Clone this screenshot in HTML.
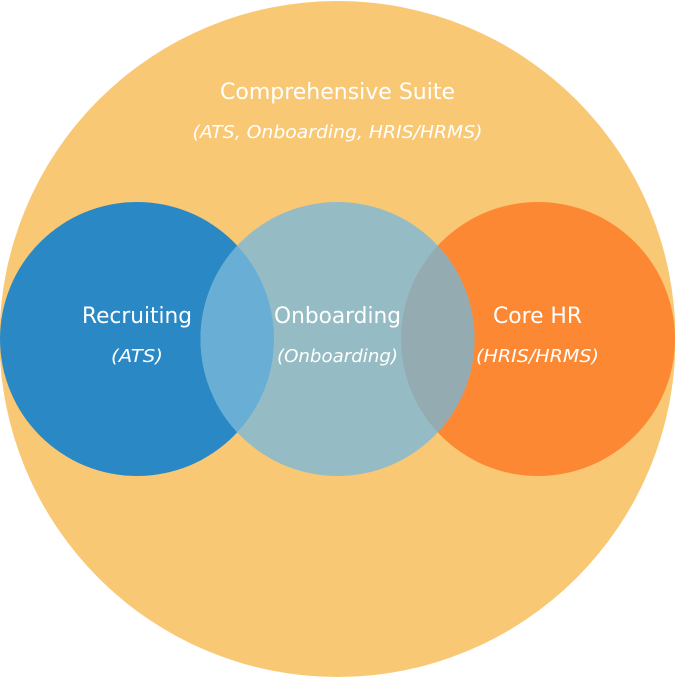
<!DOCTYPE html>
<html><head><meta charset="utf-8"><style>html,body{margin:0;padding:0;background:#fff}svg{display:block}</style></head><body>
<svg width="675" height="678" viewBox="0 0 675 678" xmlns="http://www.w3.org/2000/svg" font-family="'DejaVu Sans', 'Liberation Sans', sans-serif">
<defs>
<clipPath id="cb"><circle cx="337.5" cy="339" r="137"/></clipPath>
</defs>
<circle cx="337.5" cy="339" r="338" fill="#F9C874"/>
<circle cx="137" cy="339" r="137" fill="#2A89C5"/>
<circle cx="538" cy="339" r="137" fill="#FD8833"/>
<circle cx="337.5" cy="339" r="137" fill="#95BCC4"/>
<g clip-path="url(#cb)">
<circle cx="137" cy="339" r="137" fill="#69AFD5"/>
<circle cx="538" cy="339" r="137" fill="#94ACB1"/>
</g>
<g fill="#fff" text-anchor="middle" lengthAdjust="spacingAndGlyphs">
<text x="337.5" y="99" font-size="22" textLength="235" lengthAdjust="spacingAndGlyphs">Comprehensive Suite</text>
<text x="337.5" y="138" font-size="18" font-style="italic" textLength="290" lengthAdjust="spacingAndGlyphs">(ATS, Onboarding, HRIS/HRMS)</text>
<text x="137" y="323" font-size="22" textLength="110" lengthAdjust="spacingAndGlyphs">Recruiting</text>
<text x="137" y="362" font-size="18" font-style="italic" textLength="52" lengthAdjust="spacingAndGlyphs">(ATS)</text>
<text x="337.5" y="323" font-size="22" textLength="127" lengthAdjust="spacingAndGlyphs">Onboarding</text>
<text x="337.5" y="362" font-size="18" font-style="italic" textLength="121" lengthAdjust="spacingAndGlyphs">(Onboarding)</text>
<text x="537.5" y="323" font-size="22" textLength="89" lengthAdjust="spacingAndGlyphs">Core HR</text>
<text x="537.5" y="362" font-size="18" font-style="italic" textLength="123" lengthAdjust="spacingAndGlyphs">(HRIS/HRMS)</text>
</g>
</svg>
</body></html>
